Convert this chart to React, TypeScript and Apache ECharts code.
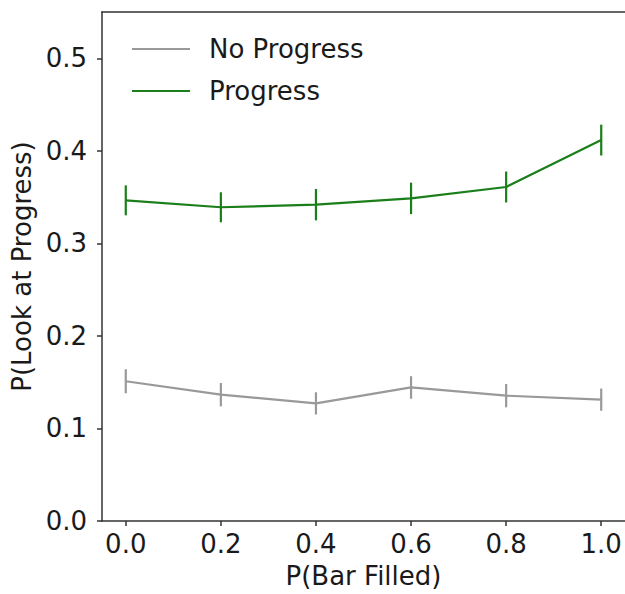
import React, { useEffect, useRef } from "react";
import * as echarts from "echarts";

const xValues = [0.0, 0.2, 0.4, 0.6, 0.8, 1.0];
const noProgressMean = [0.151, 0.1365, 0.1271, 0.1443, 0.1354, 0.1311];
const noProgressErr = [0.013, 0.0126, 0.012, 0.0122, 0.0126, 0.012];
const progressMean = [0.3465, 0.339, 0.3418, 0.3486, 0.3609, 0.4116];
const progressErr = [0.0162, 0.0162, 0.017, 0.017, 0.0167, 0.0167];
const xTicks = [0.0, 0.2, 0.4, 0.6, 0.8, 1.0];
const yTicks = [0.0, 0.1, 0.2, 0.3, 0.4, 0.5];

const GRAY = "#999999";
const GREEN = "#1a7f1a";
const FONT = "DejaVu Sans";
const SPINE = "#333333";

function errorSeries(name: string, means: number[], errs: number[], color: string) {
  return {
    type: "custom",
    name,
    data: xValues.map((x, i) => [x, means[i] - errs[i], means[i] + errs[i]]),
    renderItem: (params: any, api: any) => {
      const lo = api.coord([api.value(0), api.value(1)]);
      const hi = api.coord([api.value(0), api.value(2)]);
      return {
        type: "line",
        shape: { x1: lo[0], y1: lo[1], x2: hi[0], y2: hi[1] },
        style: { stroke: color, lineWidth: 2.2 },
      };
    },
    z: 3,
  };
}

export default function App() {
  const ref = useRef<HTMLDivElement>(null);
  useEffect(() => {
    if (!ref.current) return;
    const chart = echarts.init(ref.current, undefined, { renderer: "svg" });
    chart.setOption({
      animation: false,
      backgroundColor: "#ffffff",
      grid: {
        left: 102,
        top: 12,
        right: -2,
        bottom: 72,
        show: false,
      },
      legend: {
        data: ["No Progress", "Progress"],
        orient: "vertical",
        left: 127,
        top: 29,
        itemWidth: 58,
        itemHeight: 2,
        itemGap: 12,
        icon: "rect",
        textStyle: {
          fontFamily: FONT,
          fontSize: 26,
          color: "#1a1a1a",
          lineHeight: 30,
          padding: [0, 0, 0, 14],
        },
      },
      xAxis: [
        {
          type: "value",
          min: -0.05,
          max: 1.05,
          name: "P(Bar Filled)",
          nameLocation: "middle",
          nameGap: 42,
          nameTextStyle: { fontFamily: FONT, fontSize: 26, color: "#1a1a1a" },
          axisLine: { show: true, onZero: false, lineStyle: { color: SPINE, width: 1.5 } },
          axisTick: {
            show: true,
            length: 5,
            customValues: xTicks,
            lineStyle: { color: SPINE, width: 1.5 },
          },
          axisLabel: {
            customValues: xTicks,
            formatter: (v: number) => v.toFixed(1),
            fontFamily: FONT,
            fontSize: 26,
            color: "#1a1a1a",
            margin: 10,
          },
          splitLine: { show: false },
        },
        {
          type: "value",
          position: "top",
          min: -0.05,
          max: 1.05,
          axisLine: { show: true, onZero: false, lineStyle: { color: SPINE, width: 1.5 } },
          axisTick: { show: false },
          axisLabel: { show: false },
          splitLine: { show: false },
        },
      ],
      yAxis: {
        type: "value",
        min: 0,
        max: 0.55,
        name: "P(Look at Progress)",
        nameLocation: "middle",
        nameGap: 67,
        nameTextStyle: { fontFamily: FONT, fontSize: 26, color: "#1a1a1a" },
        axisLine: { show: true, onZero: false, lineStyle: { color: SPINE, width: 1.5 } },
        axisTick: {
          show: true,
          length: 5,
          customValues: yTicks,
          lineStyle: { color: SPINE, width: 1.5 },
        },
        axisLabel: {
          customValues: yTicks,
          formatter: (v: number) => v.toFixed(1),
          fontFamily: FONT,
          fontSize: 26,
          color: "#1a1a1a",
          margin: 15,
        },
        splitLine: { show: false },
      },
      series: [
        {
          type: "line",
          name: "No Progress",
          data: xValues.map((x, i) => [x, noProgressMean[i]]),
          showSymbol: false,
          color: GRAY,
          lineStyle: { color: GRAY, width: 2.2 },
          z: 2,
        },
        {
          type: "line",
          name: "Progress",
          data: xValues.map((x, i) => [x, progressMean[i]]),
          showSymbol: false,
          color: GREEN,
          lineStyle: { color: GREEN, width: 2.2 },
          z: 2,
        },
        errorSeries("No Progress err", noProgressMean, noProgressErr, GRAY),
        errorSeries("Progress err", progressMean, progressErr, GREEN),
      ],
    });
    return () => chart.dispose();
  }, []);
  return (
    <div
      ref={ref}
      style={{ position: "fixed", left: 0, top: 0, width: 625, height: 594, background: "#fff" }}
    />
  );
}
